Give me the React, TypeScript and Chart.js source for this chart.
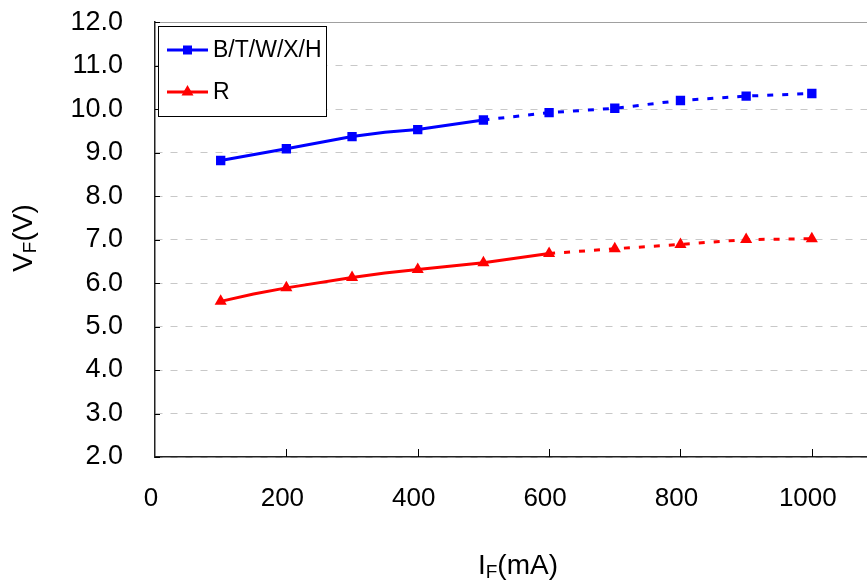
import React, { useEffect, useRef } from "react";
import { Chart, registerables } from "chart.js";

Chart.register(...registerables);

const blueCurrent = [100, 200, 300, 350, 400, 500, 600, 700, 800, 900, 1000];
const blueVF = [8.82, 9.09, 9.37, 9.47, 9.53, 9.75, 9.92, 10.02, 10.2, 10.3, 10.36];
const blueMarker = [1, 1, 1, 0, 1, 1, 1, 1, 1, 1, 1];
const redCurrent = [100, 150, 200, 300, 350, 400, 500, 600, 700, 800, 900, 1000];
const redVF = [5.58, 5.75, 5.89, 6.13, 6.23, 6.31, 6.47, 6.68, 6.79, 6.89, 7.0, 7.02];
const redMarker = [1, 0, 1, 1, 0, 1, 1, 1, 1, 1, 1, 1];
const seriesNames = ["B/T/W/X/H", "R"];
const dashFrom = [500, 600];
const xTicks = [0, 200, 400, 600, 800, 1000];
const yMin = 2;
const yMax = 12;

const FONT = "'Liberation Sans', Arial, sans-serif";
const BLUE = "#0000ff";
const RED = "#ff0000";
const SHIFT_TOP = 26;
const CANVAS_W = 874;
const CANVAS_H = 583 + SHIFT_TOP;

type Part = { t: string; sub?: boolean };
const drawSubText = (ctx: CanvasRenderingContext2D, parts: Part[], big: number, small: number) => {
  let x = 0;
  for (const p of parts) {
    ctx.font = `${p.sub ? small : big}px ${FONT}`;
    ctx.fillText(p.t, x, p.sub ? 4 : 0);
    x += ctx.measureText(p.t).width;
  }
  return x;
};
const measureSubText = (ctx: CanvasRenderingContext2D, parts: Part[], big: number, small: number) => {
  let w = 0;
  for (const p of parts) {
    ctx.font = `${p.sub ? small : big}px ${FONT}`;
    w += ctx.measureText(p.t).width;
  }
  return w;
};

const decorPlugin = {
  id: "decor",
  afterDraw(chart: any) {
    const { ctx, chartArea, scales } = chart;
    const xs = scales.x;
    const ys = scales.y;
    ctx.save();
    // top border line
    const yTop = Math.round(ys.getPixelForValue(yMax)) + 0.5;
    ctx.strokeStyle = "#a0a0a0";
    ctx.lineWidth = 1;
    ctx.beginPath();
    ctx.moveTo(chartArea.left, yTop);
    ctx.lineTo(chartArea.right, yTop);
    ctx.stroke();
    // inward ticks
    ctx.strokeStyle = "#000";
    ctx.lineWidth = 1;
    for (let v = yMin; v <= yMax; v += 1) {
      const y = Math.round(ys.getPixelForValue(v)) + 0.5;
      ctx.beginPath();
      ctx.moveTo(chartArea.left, y);
      ctx.lineTo(chartArea.left + 5, y);
      ctx.stroke();
    }
    for (const v of xTicks) {
      if (v === 0) continue;
      const x = Math.round(xs.getPixelForValue(v)) + 0.5;
      ctx.beginPath();
      ctx.moveTo(x, chartArea.bottom);
      ctx.lineTo(x, chartArea.bottom - 8);
      ctx.stroke();
    }
    // legend
    const T = SHIFT_TOP;
    const lx = 158, ly = 26 + T, lw = 168, lh = 90;
    ctx.fillStyle = "#fff";
    ctx.fillRect(lx, ly, lw, lh);
    ctx.strokeStyle = "#000";
    ctx.lineWidth = 1;
    ctx.strokeRect(lx + 0.5, ly + 0.5, lw, lh);
    const rows = [
      { y: 50 + T, color: BLUE, style: "rect" },
      { y: 92 + T, color: RED, style: "triangle" },
    ];
    rows.forEach((r, i) => {
      ctx.strokeStyle = r.color;
      ctx.lineWidth = 3;
      ctx.beginPath();
      ctx.moveTo(167, r.y);
      ctx.lineTo(208, r.y);
      ctx.stroke();
      ctx.fillStyle = r.color;
      if (r.style === "rect") {
        ctx.fillRect(183, r.y - 4.5, 9, 9);
      } else {
        ctx.beginPath();
        ctx.moveTo(187.5, r.y - 7);
        ctx.lineTo(193.5, r.y + 3.5);
        ctx.lineTo(181.5, r.y + 3.5);
        ctx.closePath();
        ctx.fill();
      }
      ctx.fillStyle = "#000";
      ctx.font = `23px ${FONT}`;
      ctx.textBaseline = "middle";
      ctx.textAlign = "left";
      ctx.fillText(seriesNames[i], 213, r.y + 1);
    });
    // axis titles
    ctx.fillStyle = "#000";
    ctx.textBaseline = "alphabetic";
    ctx.textAlign = "left";
    const xt: Part[] = [{ t: "I" }, { t: "F", sub: true }, { t: "(mA)" }];
    const wX = measureSubText(ctx, xt, 28, 19);
    ctx.save();
    ctx.translate(518 - wX / 2, 574 + T);
    drawSubText(ctx, xt, 28, 19);
    ctx.restore();
    const yt: Part[] = [{ t: "V" }, { t: "F", sub: true }, { t: "(V)" }];
    const wY = measureSubText(ctx, yt, 28, 19);
    ctx.save();
    ctx.translate(32, 238 + T + wY / 2);
    ctx.rotate(-Math.PI / 2);
    drawSubText(ctx, yt, 28, 19);
    ctx.restore();
    ctx.restore();
  },
};

export default function App() {
  const ref = useRef<HTMLCanvasElement | null>(null);
  useEffect(() => {
    if (!ref.current) return;
    const mk = (xsArr: number[], ysArr: number[]) => xsArr.map((x, i) => ({ x, y: ysArr[i] }));
    const chart = new Chart(ref.current, {
      type: "line",
      data: {
        datasets: [
          {
            label: seriesNames[0],
            data: mk(blueCurrent, blueVF),
            borderColor: BLUE,
            backgroundColor: BLUE,
            borderWidth: 3,
            pointStyle: "rect",
            pointRadius: blueMarker.map((m) => (m ? 6.6 : 0)),
            pointBorderWidth: 0,
            tension: 0,
            segment: {
              borderDash: (c: any) => (c.p0.parsed.x >= dashFrom[0] ? [6, 9] : undefined),
            },
          },
          {
            label: seriesNames[1],
            data: mk(redCurrent, redVF),
            borderColor: RED,
            backgroundColor: RED,
            borderWidth: 3,
            pointStyle: "triangle",
            pointRadius: redMarker.map((m) => (m ? 7 : 0)),
            pointBorderWidth: 0,
            tension: 0,
            segment: {
              borderDash: (c: any) => (c.p0.parsed.x >= dashFrom[1] ? [6, 9] : undefined),
            },
          },
        ],
      },
      options: {
        responsive: false,
        animation: false,
        devicePixelRatio: 1,
        layout: { padding: { top: 21, right: 0, left: 0, bottom: 0 } },
        plugins: { legend: { display: false }, tooltip: { enabled: false } },
        scales: {
          x: {
            type: "linear",
            min: 0,
            max: 1084,
            afterBuildTicks: (s: any) => {
              s.ticks = xTicks.map((v) => ({ value: v }));
            },
            afterFit: (s: any) => {
              s.height = 126;
            },
            grid: { display: false, drawTicks: false },
            border: { display: true, color: "#222", width: 1.5 },
            ticks: {
              padding: 26,
              labelOffset: -4,
              color: "#000",
              font: { family: FONT, size: 26 },
              maxRotation: 0,
              autoSkip: false,
              callback: (v: any) => String(v),
            },
          },
          y: {
            type: "linear",
            min: yMin,
            max: yMax,
            afterFit: (s: any) => {
              s.width = 155;
            },
            grid: { color: "#c8c8c8", lineWidth: 1, drawTicks: false },
            border: { display: true, color: "#222", width: 1.5, dash: [7, 8] },
            ticks: {
              stepSize: 1,
              padding: 32,
              color: "#000",
              font: { family: FONT, size: 27 },
              callback: (v: any) => Number(v).toFixed(1),
            },
          },
        },
      },
      plugins: [decorPlugin],
    } as any);
    return () => chart.destroy();
  }, []);
  return (
    <div style={{ position: "fixed", left: 0, top: 0, width: 867, height: 583, overflow: "hidden", background: "#fff" }}>
      <canvas
        ref={ref}
        width={CANVAS_W}
        height={CANVAS_H}
        style={{ position: "absolute", left: 0, top: -SHIFT_TOP, width: CANVAS_W, height: CANVAS_H }}
      />
    </div>
  );
}
